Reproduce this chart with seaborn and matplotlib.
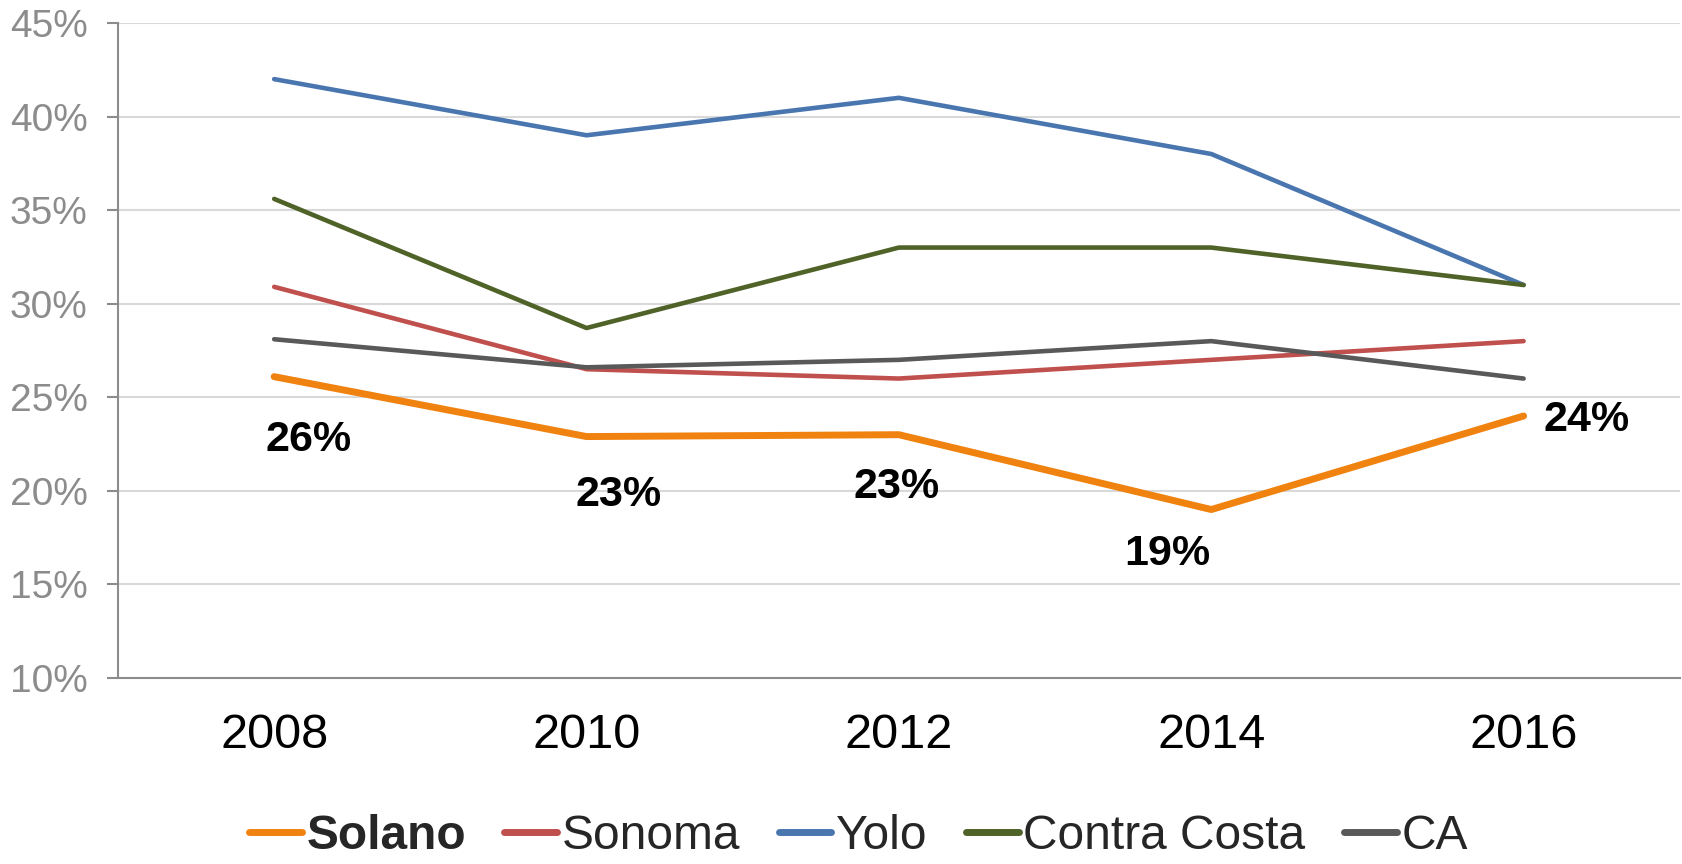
import pandas as pd
import matplotlib.pyplot as plt
import seaborn as sns

# Data
years = ["2008", "2010", "2012", "2014", "2016"]
solano = [26.1, 22.9, 23.0, 19.0, 24.0]
sonoma = [30.9, 26.5, 26.0, 27.0, 28.0]
yolo = [42.0, 39.0, 41.0, 38.0, 31.0]
contra_costa = [35.6, 28.7, 33.0, 33.0, 31.0]
ca = [28.1, 26.6, 27.0, 28.0, 26.0]
solano_labels = ["26%", "23%", "23%", "19%", "24%"]

series_names = ["Solano", "Sonoma", "Yolo", "Contra Costa", "CA"]
colors = {"Solano": "#F0820F", "Sonoma": "#C0504D", "Yolo": "#4A76B0",
          "Contra Costa": "#4F6228", "CA": "#595959"}
widths = {"Solano": 5.0, "Sonoma": 3.3, "Yolo": 3.3, "Contra Costa": 3.3, "CA": 3.3}

rows = []
for name, vals in zip(series_names, [solano, sonoma, yolo, contra_costa, ca]):
    for y, v in zip(years, vals):
        rows.append({"year": y, "value": v, "series": name})
df = pd.DataFrame(rows)

sns.set_style("white")
plt.rcParams["font.family"] = ["Liberation Sans", "DejaVu Sans"]

fig = plt.figure(figsize=(16.83, 8.64), dpi=100)
ax = fig.add_axes([0.0701, 0.2153, 0.928, 0.7581])

sns.lineplot(data=df, x="year", y="value", hue="series", hue_order=series_names,
             palette=colors, size="series", sizes=widths, size_order=series_names,
             ax=ax, legend=False, sort=False)
for line in ax.lines:
    line.set_solid_capstyle("round")

ax.set_xlim(-0.5, len(years) - 0.5)
ax.set_ylim(10, 45)
ax.set_yticks(range(10, 46, 5))
ax.set_yticklabels([f"{t}%" for t in range(10, 46, 5)])
ax.grid(axis="y", color="#D9D9D9", linewidth=1.5)
ax.set_axisbelow(True)
for s in ["top", "right"]:
    ax.spines[s].set_visible(False)
for s in ["left", "bottom"]:
    ax.spines[s].set_color("#8C8C8C")
    ax.spines[s].set_linewidth(1.5)
ax.tick_params(axis="y", labelsize=28, colors="#8C8C8C", labelcolor="#8C8C8C",
               length=8, width=1.5, left=True, pad=14)
ax.tick_params(axis="x", labelsize=35, labelcolor="black", length=0, pad=25)
ax.set_xlabel("")
ax.set_ylabel("")

# Solano data labels
offsets = [(34, -63), (32, -58), (-2, -52), (-44, -44), (63, -4)]
for i, (lab, off) in enumerate(zip(solano_labels, offsets)):
    ax.annotate(lab, (i, solano[i]), xytext=off, textcoords="offset pixels",
                ha="center", va="center", fontsize=31, fontweight="bold", color="black")

handles = [plt.Line2D([], [], color=colors[n], linewidth=5) for n in series_names]
leg = fig.legend(handles, series_names, loc="center", bbox_to_anchor=(0.51, 0.032),
                 ncol=5, frameon=False, fontsize=34.5, handlelength=1.1,
                 handletextpad=0.1, columnspacing=0.8, borderpad=0.1)
leg.get_texts()[0].set_fontweight("bold")

plt.savefig("out.png", dpi=100)
